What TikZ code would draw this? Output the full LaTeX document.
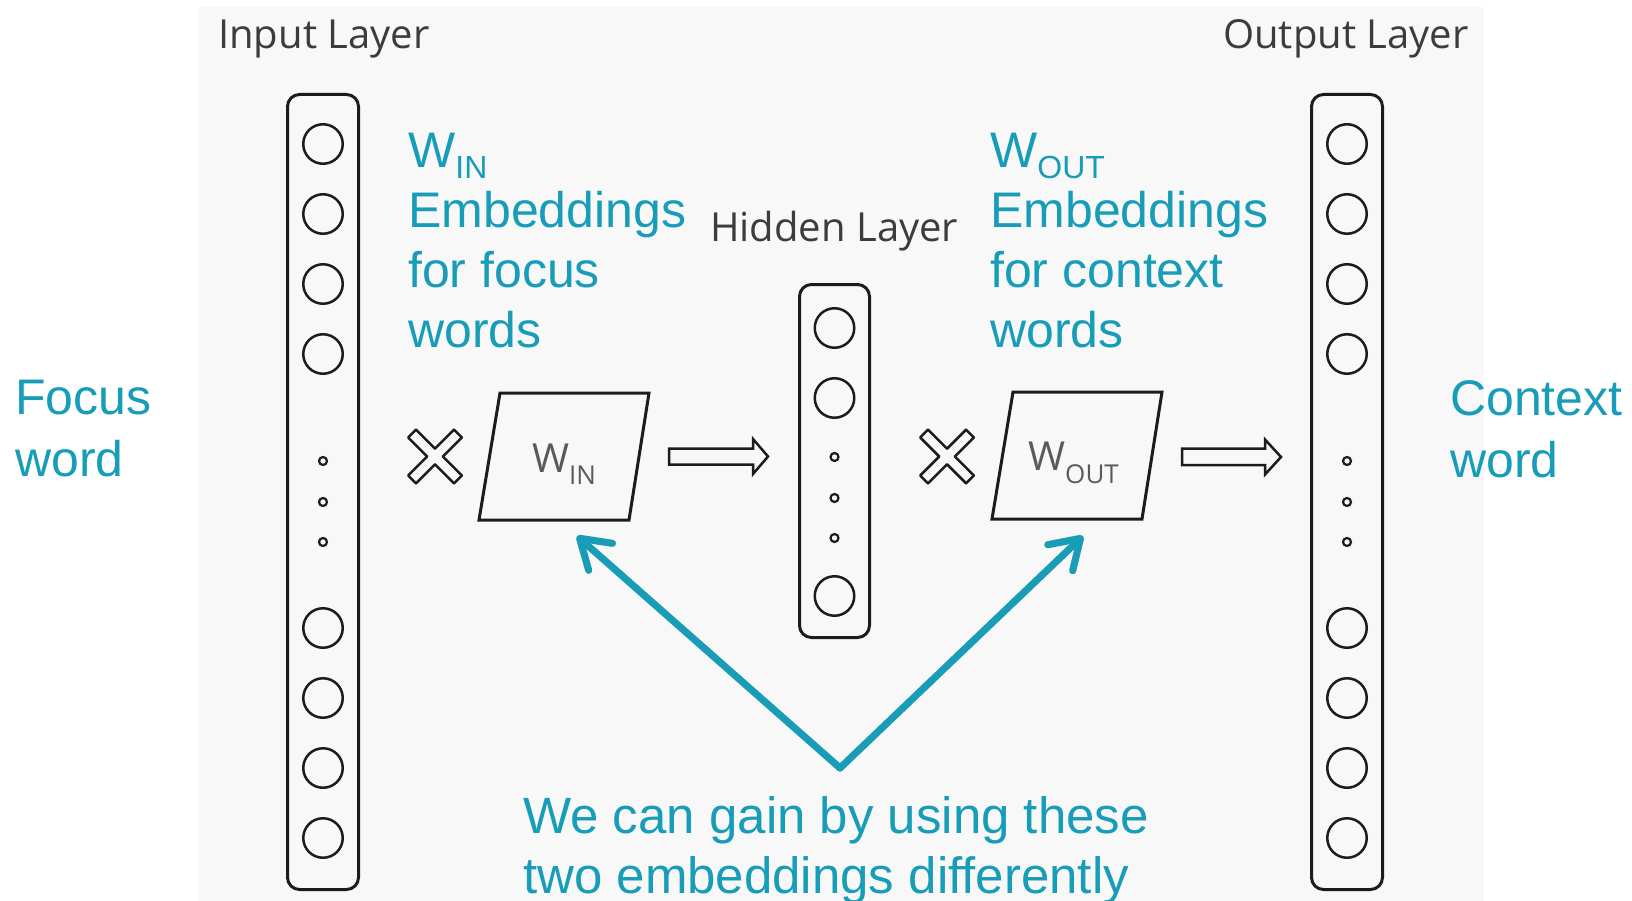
\documentclass[tikz,border=0pt]{standalone}
\usepackage{fontspec}
\setmainfont{Liberation Sans}
\newfontfamily\layerfont{Open Sans}
\usetikzlibrary{arrows.meta,calc}
\definecolor{tealc}{RGB}{23,157,184}
\definecolor{ink}{RGB}{28,28,28}
\definecolor{bggray}{RGB}{248,248,248}
\definecolor{labgray}{RGB}{60,60,60}
\definecolor{wgray}{RGB}{90,90,90}
\begin{document}
\begin{tikzpicture}[x=1pt,y=-1pt,
  col/.style={draw=ink, line width=3pt, rounded corners=12pt, minimum width=71pt, inner sep=0pt},
  unit/.style={circle, draw=ink, line width=2.5pt, minimum size=39.5pt, inner sep=0pt},
  dotunit/.style={circle, draw=ink, line width=2.2pt, minimum size=8pt, inner sep=0pt},
  layerlab/.style={font=\layerfont\fontsize{40}{40}\selectfont, text=labgray, inner sep=0pt, anchor=base west},
  wlab/.style={font=\layerfont\fontsize{40}{40}\selectfont, text=wgray, inner sep=0pt, anchor=base west},
  teallab/.style={font=\fontsize{50}{60}\selectfont, text=tealc, inner sep=0pt, anchor=base west, align=left},
  plate/.style={draw=ink, line width=3pt, line join=miter},
  crossmark/.style={draw=ink, line width=2.5pt, line join=round},
  blockarrow/.style={draw=ink, line width=2.5pt, line join=miter},
  pointer/.style={draw=tealc, line width=7pt, line cap=round, line join=round,
    -{Straight Barb[length=28pt, width=36pt, line cap=round, line join=round]}},
  pointershadow/.style={draw=black, opacity=0.22, line width=7pt, line cap=round, line join=round,
    -{Straight Barb[length=28pt, width=36pt, line cap=round, line join=round]}}
]
\useasboundingbox (0,0) rectangle (1632,901);
\fill[bggray] (198,7) rectangle (1484,901);

% layer labels
\node[layerlab] (inlab) at (218,49) {Input Layer};
\node[layerlab] (outlab) at (1223,49) {Output Layer};
\node[layerlab] (hidlab) at (710,242) {Hidden Layer};

% columns
\node[col, minimum height=795pt] (incol) at (323,492) {};
\node[col, minimum height=795pt] (outcol) at (1347,492) {};
\node[col, minimum width=70pt, minimum height=353pt] (hidcol) at (834.5,461) {};

\foreach \y [count=\i] in {144,214,284,354,628,698,768,838} {
  \node[unit] (in\i) at (323,\y) {};
  \node[unit] (out\i) at (1347,\y) {};
}
\foreach \y [count=\i] in {461,502,542} {
  \node[dotunit] (ind\i) at (323,\y) {};
  \node[dotunit] (outd\i) at (1347,\y) {};
}
\foreach \y [count=\i] in {328,398,596} {
  \node[unit] (hid\i) at (834.5,\y) {};
}
\foreach \y [count=\i] in {457,498,538} {
  \node[dotunit] (hidd\i) at (834.5,\y) {};
}

% multiplication signs
\foreach \cx/\nm in {435/xa,947/xb} {
  \draw[crossmark, shift={(\cx,456.5)}, rotate=45]
    (5.5,5.5) -- (32.5,5.5) -- (32.5,-5.5) -- (5.5,-5.5) -- (5.5,-32.5) -- (-5.5,-32.5)
    -- (-5.5,-5.5) -- (-32.5,-5.5) -- (-32.5,5.5) -- (-5.5,5.5) -- (-5.5,32.5) -- (5.5,32.5) -- cycle;
}

% weight plates
\draw[plate] (479,520) -- (500,393) -- (649,393) -- (629,520) -- cycle;
\node[wlab] (win) at (532,472) {W\raisebox{-12pt}{\fontsize{26}{26}\selectfont IN}};
\draw[plate] (992,519) -- (1013,392) -- (1162,392) -- (1142,519) -- cycle;
\node[wlab] (wout) at (1028,470) {W\raisebox{-13pt}{\fontsize{26}{26}\selectfont OUT}};

% block arrows
\draw[blockarrow] (669,448.5) -- (753,448.5) -- (753,439) -- (768,456.5) -- (753,474) -- (753,464.5) -- (669,464.5) -- cycle;
\draw[blockarrow] (1182,448.5) -- (1265,448.5) -- (1265,439.5) -- (1281,457) -- (1265,474.5) -- (1265,465) -- (1182,465) -- cycle;

% teal labels (anchor = baseline of last line)
\node[teallab] (winlab) at (408,347) {W\raisebox{-11pt}{\fontsize{32}{32}\selectfont IN}\\Embeddings\\for focus\\words};
\node[teallab] (woutlab) at (990,347) {W\raisebox{-11pt}{\fontsize{32}{32}\selectfont OUT}\\Embeddings\\for context\\words};
\node[teallab, font=\fontsize{50}{62}\selectfont] (focus) at (15,476) {Focus\\word};
\node[teallab, font=\fontsize{50}{62}\selectfont] (context) at (1450,477) {Context\\word};
\node[teallab, font=\fontsize{51}{60}\selectfont] (gain) at (523,893) {We can gain by using these\\two embeddings differently};

% pointers
\coordinate (vtx) at (840,768);
\coordinate (winfoot) at (577,536);
\coordinate (woutfoot) at (1083,536);
\begin{scope}[shift={(2,3)}]
  \draw[pointershadow] (vtx) -- (winfoot);
  \draw[pointershadow] (vtx) -- (woutfoot);
\end{scope}
\draw[pointer] (vtx) -- (winfoot);
\draw[pointer] (vtx) -- (woutfoot);
\end{tikzpicture}
\end{document}
